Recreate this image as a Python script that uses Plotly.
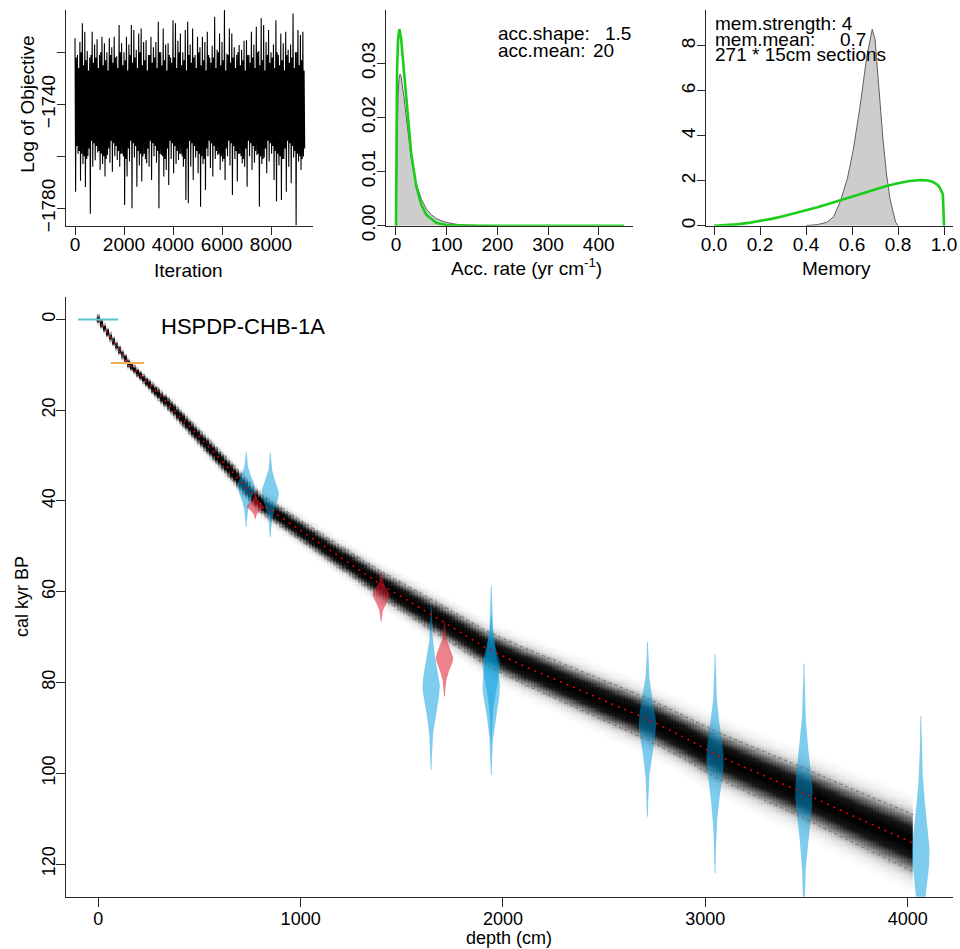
import numpy as np
import plotly.graph_objects as go

FONT = "Liberation Sans, Arial, Helvetica, sans-serif"
W, H = 960, 949


def px(x):
    return x / W


def py(y):
    return 1 - y / H


# ---------------- data: panel 1 (MCMC log objective, envelope per 100 iterations) ----------------
iter_start = list(range(0, 9400, 100))
log_obj_hi = [-1714.6, -1721, -1716, -1708.8, -1712.1, -1719.5, -1722, -1712.1, -1717, -1715,
              -1721, -1714, -1716.5, -1720, -1714.6, -1718, -1714, -1721.5, -1709.5, -1716.5,
              -1720, -1714, -1717, -1709.5, -1711.4, -1719, -1712.7, -1710.8, -1716, -1715.3,
              -1721, -1714, -1718, -1716, -1708.2, -1720, -1710.8, -1717, -1716.5, -1722,
              -1707.6, -1708.8, -1715.5, -1712.7, -1720, -1711.4, -1708.2, -1717, -1710.8, -1721,
              -1714, -1718, -1714, -1716, -1712.1, -1722, -1717.5, -1706.3, -1719, -1712.7,
              -1716, -1703.7, -1720.5, -1710.8, -1712.7, -1718, -1721, -1717.2, -1719, -1715.5,
              -1715.3, -1721, -1712.1, -1717, -1710.1, -1719.5, -1706.9, -1709.5, -1716, -1711.4,
              -1720, -1717, -1707.6, -1721, -1712.7, -1716.5, -1712.1, -1719, -1717, -1705,
              -1720, -1711.4, -1713.3, -1712.1]
log_obj_lo = [-1773.6, -1759, -1769.4, -1763, -1771.8, -1760, -1782.1, -1764, -1761.5, -1758.5,
              -1765.3, -1763, -1767.8, -1759.5, -1762.5, -1765.9, -1760, -1761.4, -1764, -1759,
              -1778.7, -1767.8, -1762, -1780, -1760.5, -1771.7, -1763.5, -1769.7, -1759, -1762.7,
              -1764, -1769.1, -1760, -1762.5, -1780, -1759.5, -1767.8, -1765.3, -1771, -1761,
              -1766.5, -1763, -1761.4, -1759, -1764, -1776.8, -1778.1, -1764, -1769.1, -1760.5,
              -1766.5, -1779.4, -1763, -1773, -1760, -1764.5, -1767.8, -1761, -1759.5, -1765.3,
              -1762, -1769.1, -1760, -1763.5, -1774.9, -1761, -1769.7, -1759, -1762.7, -1764,
              -1771.7, -1760, -1765.3, -1762.5, -1759.5, -1779.4, -1763, -1760.5, -1766.5, -1762,
              -1759, -1769.1, -1777.4, -1763.5, -1776.8, -1761, -1773.6, -1764, -1770.4, -1760.5,
              -1786.5, -1762, -1765.3, -1760.1]
# dense part of the trace, upper / lower edges (alternating columns)
log_obj_core_hi = [-1722, -1726, -1720, -1725, -1723, -1727, -1721, -1724]
log_obj_core_lo = [-1756, -1760, -1754, -1758, -1761, -1755, -1759, -1757]

# ---------------- data: panel 2 (accumulation rate) ----------------
acc_post_x = [0, 1, 2, 4, 6, 8, 10, 13, 16, 20, 25, 30, 35, 40, 50, 60, 70, 80, 90, 100, 120, 140, 170, 200]
acc_post_y = [0, 0.008, 0.016, 0.024, 0.0272, 0.028, 0.0276, 0.0258, 0.0236, 0.0203, 0.0162, 0.0125,
              0.0098, 0.0078, 0.0049, 0.0031, 0.0020, 0.0013, 0.0009, 0.0006, 0.00025, 0.0001, 0.00003, 0]
acc_prior_x = [0, 1, 2, 4, 6.67, 10, 15, 20, 25, 30, 40, 50, 60, 80, 100, 130, 160, 200, 450]
acc_prior_y = [0, 0.0215, 0.0282, 0.0343, 0.0363, 0.0346, 0.0292, 0.0231, 0.0178, 0.0134, 0.0073,
               0.00386, 0.00199, 0.00051, 0.00013, 0.00001, 0, 0, 0]

# ---------------- data: panel 3 (memory) ----------------
mem_post_x = [0.40, 0.45, 0.49, 0.52, 0.55, 0.58, 0.606, 0.635, 0.664, 0.688, 0.70, 0.72, 0.735, 0.75,
              0.765, 0.78, 0.79, 0.80]
mem_post_y = [0, 0.05, 0.15, 0.4, 1.1, 2.1, 3.4, 5.3, 7.5, 8.73, 8.3, 5.6, 3.8, 2.3, 1.2, 0.55, 0.15, 0]
mem_prior_x = [0, 0.05, 0.1, 0.15, 0.2, 0.25, 0.3, 0.35, 0.4, 0.45, 0.5, 0.55, 0.6, 0.65, 0.7, 0.75,
               0.8, 0.85, 0.9, 0.93, 0.95, 0.97, 0.98, 0.99, 0.995, 1.0]
mem_prior_y = [0, 0.018, 0.06, 0.124, 0.206, 0.303, 0.415, 0.54, 0.676, 0.822, 0.974, 1.133, 1.294,
               1.455, 1.612, 1.76, 1.89, 1.99, 2.034, 2.01, 1.952, 1.831, 1.718, 1.52, 1.4, 0]

# ---------------- data: main age-depth model ----------------
model_depth = [0, 150, 300, 500, 650, 800, 1000, 1200, 1400, 1600, 1800, 1920, 2100, 2300, 2595,
               2726, 2900, 3057, 3250, 3468, 3700, 3900, 4028]
model_mean = [0, 9.7, 16.5, 26, 33, 40.5, 46.5, 52.5, 58.5, 63.8, 69.2, 72.5, 76.3, 80.2, 85.8,
              88.3, 92.2, 96, 99.8, 104, 108.8, 112.8, 115.4]
model_lo = [0, 9.1, 15.3, 24.4, 31.2, 38.5, 44.3, 50.0, 55.6, 60.5, 65.6, 68.7, 72.3, 76.0, 81.3,
            83.7, 87.4, 90.9, 94.5, 98.5, 103.0, 106.7, 109.1]
model_hi = [0, 10.3, 17.7, 27.6, 34.8, 42.5, 48.7, 55.0, 61.4, 67.1, 72.8, 76.3, 80.3, 84.4, 90.3,
            92.9, 97.0, 101.1, 105.1, 109.5, 114.6, 118.9, 121.7]

# dated levels (calibrated age distributions)
date_depth = [731, 776, 850, 1398, 1645, 1711, 1942, 1942, 2714, 3048, 3487, 4065]
date_top = [29.2, 38.3, 29.4, 55.6, 63.3, 66.6, 58.7, 65.1, 71.0, 73.7, 75.8, 87.4]
date_peak = [36.9, 41.3, 38.3, 60.7, 80.9, 74.7, 81.0, 76.0, 89.0, 97.0, 104.4, 117.6]
date_bottom = [45.7, 44.0, 48.0, 66.6, 99.3, 83.1, 100.4, 93.4, 109.6, 122.0, 133.0, 148.0]
date_kind = ["blue", "red", "blue", "red", "blue", "red", "blue", "blue", "blue", "blue", "blue", "blue"]

# horizontal markers (age, depth from, depth to)
bar_age = [0.0, 9.6]
bar_from = [-100, 62]
bar_to = [98, 226]
bar_color = ["rgb(90,198,205)", "rgb(245,172,80)"]

# ---------------- figure ----------------
fig = go.Figure()

# panel 1 trace
tx, ty = [], []
for i, (b, hi, lo) in enumerate(zip(iter_start, log_obj_hi, log_obj_lo)):
    tx += [b, b + 25, b + 50, b + 75]
    ty += [hi, lo, log_obj_core_hi[i % 8], log_obj_core_lo[(i * 3) % 8]]
fig.add_trace(go.Scatter(x=tx, y=ty, mode="lines", line=dict(color="black", width=1.1),
                         xaxis="x2", yaxis="y2", hoverinfo="skip"))

# panel 2
fig.add_trace(go.Scatter(x=acc_post_x, y=acc_post_y, mode="lines", fill="tozeroy",
                         fillcolor="rgb(205,205,205)", line=dict(color="rgb(95,95,95)", width=1),
                         xaxis="x3", yaxis="y3", hoverinfo="skip"))
fig.add_trace(go.Scatter(x=acc_prior_x, y=acc_prior_y, mode="lines",
                         line=dict(color="rgb(25,205,25)", width=2.6),
                         xaxis="x3", yaxis="y3", hoverinfo="skip"))

# panel 3
fig.add_trace(go.Scatter(x=mem_post_x, y=mem_post_y, mode="lines", fill="tozeroy",
                         fillcolor="rgb(205,205,205)", line=dict(color="rgb(95,95,95)", width=1),
                         xaxis="x4", yaxis="y4", hoverinfo="skip"))
fig.add_trace(go.Scatter(x=mem_prior_x, y=mem_prior_y, mode="lines",
                         line=dict(color="rgb(25,205,25)", width=2.6),
                         xaxis="x4", yaxis="y4", hoverinfo="skip"))

# main: greyscale age-depth probability
hd = np.arange(0, 4028, 15.0)
ha = np.arange(-3, 128, 0.25)
m = np.interp(hd, model_depth, model_mean)
sd = np.maximum((np.interp(hd, model_depth, model_hi) - np.interp(hd, model_depth, model_lo)) / 3.5, 0.5)
z = np.exp(-0.5 * ((ha[:, None] - m[None, :]) / sd[None, :]) ** 2)
z = np.where(z < 0.01, np.nan, z)
fig.add_trace(go.Heatmap(x=hd, y=ha, z=z, zmin=0, zmax=1, showscale=False,
                         colorscale=[[0, "rgb(255,255,255)"], [0.12, "rgb(218,218,218)"],
                                     [0.35, "rgb(115,115,115)"], [0.65, "rgb(25,25,25)"],
                                     [1, "rgb(0,0,0)"]],
                         hoverinfo="skip", xaxis="x", yaxis="y"))

# main: dated levels as violins
half_w = 43.0
for d, t, p, b, k in zip(date_depth, date_top, date_peak, date_bottom, date_kind):
    a = np.concatenate([np.linspace(t, p, 50), np.linspace(p, b, 50)[1:]])
    u = np.where(a < p, (p - a) / (p - t), (a - p) / (b - p))
    w = half_w * (1 + (3.23 * u) ** 2 / 3) ** -2
    xs = np.concatenate([d + w, (d - w)[::-1]])
    ys = np.concatenate([a, a[::-1]])
    col = "rgba(0,155,222,0.5)" if k == "blue" else "rgba(222,25,45,0.55)"
    fig.add_trace(go.Scatter(x=xs, y=ys, mode="lines", fill="toself", fillcolor=col,
                             line=dict(width=0, color=col), xaxis="x", yaxis="y", hoverinfo="skip"))

# main: 95% range and mean
for arr in (model_lo, model_hi):
    fig.add_trace(go.Scatter(x=model_depth, y=arr, mode="lines",
                             line=dict(color="rgb(110,110,110)", width=1, dash="dot"),
                             xaxis="x", yaxis="y", hoverinfo="skip"))
fig.add_trace(go.Scatter(x=model_depth, y=model_mean, mode="lines",
                         line=dict(color="rgb(235,0,0)", width=1.6, dash="2px,5px"),
                         xaxis="x", yaxis="y", hoverinfo="skip"))

for ag, f, t, c in zip(bar_age, bar_from, bar_to, bar_color):
    fig.add_trace(go.Scatter(x=[f, t], y=[ag, ag], mode="lines", line=dict(color=c, width=2),
                             xaxis="x", yaxis="y", hoverinfo="skip"))

# ---------------- axes ----------------
LC = "rgb(40,40,40)"


def ax(size, tl, so, **kw):
    d = dict(showline=True, linecolor=LC, linewidth=1.3, ticks="outside", ticklen=tl, tickwidth=1.3,
             tickcolor=LC, showgrid=False, zeroline=False, mirror=False, fixedrange=True,
             automargin=False, ticklabelstandoff=so,
             tickfont=dict(family=FONT, size=size, color="black"))
    d.update(kw)
    return d


fig.update_layout(
    template="none",
    width=W, height=H, margin=dict(l=0, r=0, t=0, b=0, pad=0), autosize=False,
    paper_bgcolor="white", plot_bgcolor="rgba(0,0,0,0)", showlegend=False,
    xaxis=ax(18, 9, -3, domain=[px(65.7), px(953)], range=[-161, 4224], anchor="y",
             tickvals=[0, 1000, 2000, 3000, 4000]),
    yaxis=ax(18, 9, -7, domain=[py(896.7), py(296.7)], range=[127.2, -5.0], anchor="x",
             tickvals=[0, 20, 40, 60, 80, 100, 120], tickangle=-90),
    xaxis2=ax(19, 8, -7, domain=[px(65.7), px(312.7)], range=[-380, 9702], anchor="y2",
              tickvals=[0, 2000, 4000, 6000, 8000]),
    yaxis2=ax(19, 8, -6, domain=[py(225.7), py(10)], range=[-1786.7, -1703.7], anchor="x2",
              tickvals=[-1780, -1760, -1740, -1720],
              ticktext=["\u22121780", "", "\u22121740", ""], tickangle=-90),
    xaxis3=ax(19, 8, -7, domain=[px(385.7), px(633.3)], range=[-20.3, 468.3], anchor="y3",
              tickvals=[0, 100, 200, 300, 400]),
    yaxis3=ax(19, 8, -6, domain=[py(225.7), py(10)], range=[0, 0.03985], anchor="x3",
              tickvals=[0, 0.01, 0.02, 0.03], ticktext=["0.00", "0.01", "0.02", "0.03"], tickangle=-90),
    xaxis4=ax(19, 8, -7, domain=[px(705.7), px(953.3)], range=[-0.0361, 1.0404], anchor="y4",
              tickvals=[0, 0.2, 0.4, 0.6, 0.8, 1.0], ticktext=["0.0", "0.2", "0.4", "0.6", "0.8", "1.0"]),
    yaxis4=ax(19, 8, -6, domain=[py(225.7), py(10)], range=[0, 9.587], anchor="x4",
              tickvals=[0, 2, 4, 6, 8], tickangle=-90),
)


def note(text, x, y, size=19, xanchor="center", angle=0):
    fig.add_annotation(text=text, x=px(x), y=py(y), xref="paper", yref="paper", showarrow=False,
                       xanchor=xanchor, yanchor="middle", textangle=angle, borderpad=0,
                       font=dict(family=FONT, size=size, color="black"))


note("Log of Objective", 26.7, 104, angle=-90)
note("Iteration", 188.3, 270)
note("Acc. rate (yr cm<sup>-1</sup>)", 526.7, 267)
note("Memory", 836.7, 268)
note("acc.shape:", 496.7, 33.3, xanchor="left")
note("1.5", 631.7, 33.3, xanchor="right")
note("acc.mean:", 496.7, 50, xanchor="left")
note("20", 615, 50, xanchor="right")
note("mem.strength: 4", 714, 23.3, xanchor="left")
note("mem.mean:", 714, 39.3, xanchor="left")
note("0.7", 866.7, 39.3, xanchor="right")
note("271 * 15cm sections", 714, 55, xanchor="left")
note("HSPDP-CHB-1A", 160, 326, size=22, xanchor="left")
note("cal kyr BP", 22, 597, size=18, angle=-90)
note("depth (cm)", 509, 938, size=18)

fig.write_html("out.html", config={"displayModeBar": False},
               post_script="document.body.style.margin='0px';document.body.style.overflow='hidden';")
